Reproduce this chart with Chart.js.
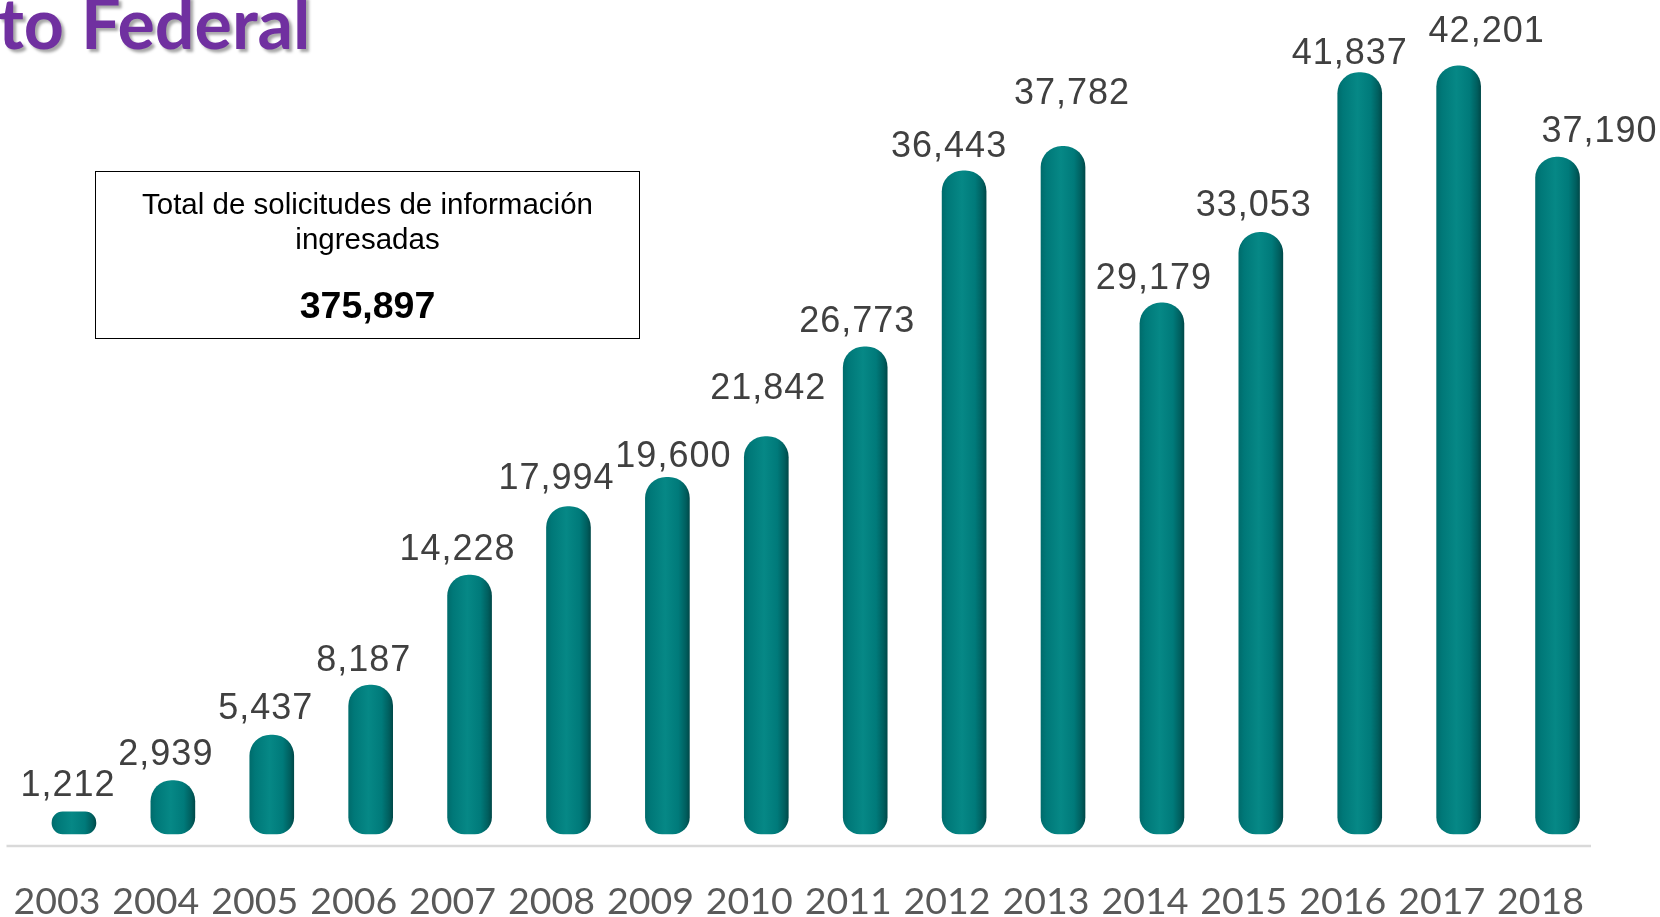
<!DOCTYPE html>
<html>
<head>
<meta charset="utf-8">
<script src="https://cdn.jsdelivr.net/npm/chart.js@4/dist/chart.umd.min.js"></script>
<style>
  html, body { margin: 0; padding: 0; background: #ffffff; }
  #wrap { position: relative; width: 1660px; height: 917px; overflow: hidden; }
  #c { position: absolute; left: 0; top: 0; }
  #title {
    position: absolute; left: -2px; top: -13px;
    font-family: Lato, "Open Sans", sans-serif; font-weight: 700; font-size: 70px; line-height: 1;
    color: #7030A0; white-space: nowrap;
    text-shadow: 3px 3px 3px rgba(0,0,0,0.35);
  }
  #box {
    position: absolute; left: 95px; top: 171px; width: 545px; height: 168px;
    border: 1.5px solid #000; box-sizing: border-box;
    font-family: "Liberation Sans", Arial, sans-serif; color: #000; text-align: center;
  }
  #box .l { font-size: 29.5px; line-height: 35px; }
  #box .n { font-size: 37.5px; font-weight: 700; position: absolute; left: 0; right: 0; top: 113px; line-height: 40px; }
</style>
</head>
<body>
<div id="wrap">
  <canvas id="c" width="1660" height="917"></canvas>
  <div id="title">to Federal</div>
  <div id="box">
    <div class="l" style="margin-top:14px">Total de solicitudes de información</div>
    <div class="l">ingresadas</div>
    <div class="n">375,897</div>
  </div>
</div>
<script>
const years = ['2003','2004','2005','2006','2007','2008','2009','2010','2011','2012','2013','2014','2015','2016','2017','2018'];
const solicitudes = [1212, 2939, 5437, 8187, 14228, 17994, 19600, 21842, 26773, 36443, 37782, 29179, 33053, 41837, 42201, 37190];

// label placement tweaks (pixels), kept separate from the data
const labelDx  = [-6, -7, -6, -7, -12, -12, 6, 2, -8, -15, 9, -8, -7, -10, 28, 42];
const labelGap = [16, 15, 16, 14, 15, 18, 10, 37, 15, 14, 42, 14, 16, 9, 24, 15];

const fmt = v => v.toLocaleString('en-US');

const valueLabels = {
  id: 'valueLabels',
  afterDatasetsDraw(chart) {
    const ctx = chart.ctx;
    const meta = chart.getDatasetMeta(0);
    ctx.save();
    ctx.font = '36px "Liberation Sans", Arial, sans-serif';
    try { ctx.letterSpacing = '1px'; } catch (e) {}
    ctx.fillStyle = '#404040';
    ctx.textAlign = 'center';
    ctx.textBaseline = 'alphabetic';
    meta.data.forEach((el, i) => {
      ctx.fillText(fmt(solicitudes[i]), el.x + labelDx[i], el.y - labelGap[i]);
    });
    ctx.restore();
  }
};

const baseLine = {
  id: 'baseLine',
  beforeDatasetsDraw(chart) {
    const {ctx, chartArea} = chart;
    ctx.save();
    ctx.strokeStyle = '#d9d9d9';
    ctx.lineWidth = 2.5;
    ctx.beginPath();
    ctx.moveTo(chartArea.left - 18, chartArea.bottom);
    ctx.lineTo(chartArea.right - 16, chartArea.bottom);
    ctx.stroke();
    ctx.restore();
  }
};

function barFill(context) {
  const chart = context.chart;
  const xs = chart.scales && chart.scales.x;
  if (!xs || !chart.chartArea) return '#008080';
  const cx = xs.getPixelForValue(context.dataIndex);
  const g = chart.ctx.createLinearGradient(cx - 22, 0, cx + 22, 0);
  g.addColorStop(0.00, '#006c6c');
  g.addColorStop(0.12, '#007878');
  g.addColorStop(0.45, '#068886');
  g.addColorStop(0.75, '#007a7a');
  g.addColorStop(0.92, '#005e5e');
  g.addColorStop(1.00, '#004a4a');
  return g;
}

new Chart(document.getElementById('c'), {
  type: 'bar',
  data: {
    labels: years,
    datasets: [{
      data: solicitudes,
      backgroundColor: barFill,
      borderWidth: 0,
      borderSkipped: false,
      borderRadius: {topLeft: 21, topRight: 21, bottomLeft: 17, bottomRight: 17},
      barThickness: 44
    }]
  },
  options: {
    responsive: false,
    animation: false,
    devicePixelRatio: 1,
    layout: { padding: { left: 24.5, right: 53, top: 0, bottom: 0 } },
    plugins: { legend: { display: false }, tooltip: { enabled: false }, title: { display: false } },
    scales: {
      x: {
        grid: { display: false, drawTicks: false },
        border: { display: false },
        ticks: {
          color: '#595959',
          font: { family: 'Lato', size: 37.5 },
          labelOffset: -17,
          padding: 33,
          maxRotation: 0,
          autoSkip: false
        },
        afterFit(scale) { scale.height = 71; scale.paddingLeft = 0; scale.paddingRight = 0; }
      },
      y: {
        display: false,
        min: -660,
        max: 45824
      }
    }
  },
  plugins: [baseLine, valueLabels]
});
</script>
</body>
</html>
